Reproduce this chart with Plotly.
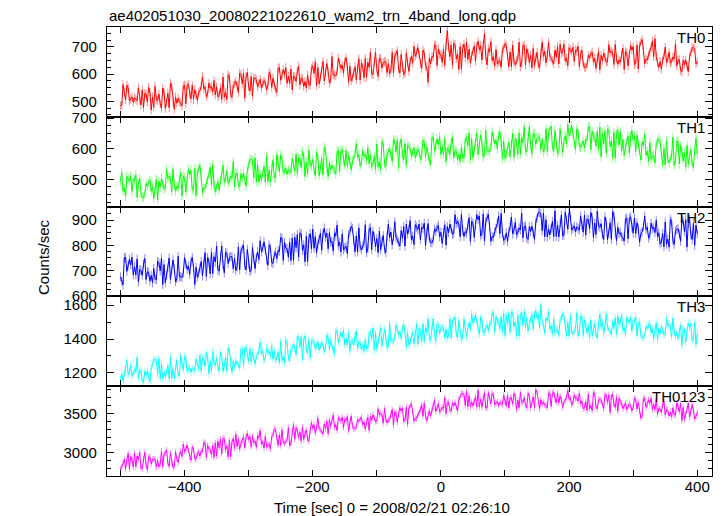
import plotly.graph_objects as go
from plotly.subplots import make_subplots

TITLE = "ae402051030_20080221022610_wam2_trn_4band_long.qdp"
X_TITLE = "Time [sec] 0 = 2008/02/21 02:26:10"
Y_TITLE = "Counts/sec"
PANEL_NAMES = ["TH0", "TH1", "TH2", "TH3", "TH0123"]

# time bins (sec, relative to 2008/02/21 02:26:10)
TIME = list(range(-500, 401, 2))

TH0 = [
    484, 485, 562, 535, 505, 559, 549, 502, 508, 516, 496, 513, 508, 502, 549,
    508, 486, 542, 477, 529, 527, 497, 551, 533, 468, 516, 478, 555, 507, 502,
    527, 491, 475, 549, 532, 474, 496, 530, 476, 567, 554, 496, 471, 516, 493,
    511, 498, 494, 483, 556, 559, 491, 557, 563, 528, 509, 559, 507, 543, 524,
    504, 533, 539, 555, 590, 545, 553, 517, 526, 567, 548, 554, 535, 576, 523,
    553, 516, 522, 550, 507, 589, 515, 532, 506, 598, 590, 526, 515, 560, 564,
    574, 556, 532, 604, 599, 564, 603, 513, 591, 606, 554, 538, 591, 519, 585,
    586, 579, 553, 564, 581, 548, 567, 576, 568, 543, 557, 606, 598, 551, 585,
    559, 544, 533, 622, 623, 577, 596, 617, 598, 624, 566, 592, 566, 618, 542,
    592, 590, 573, 611, 629, 560, 586, 583, 554, 573, 549, 596, 561, 559, 620,
    630, 603, 645, 558, 624, 564, 589, 613, 646, 575, 606, 639, 610, 567, 578,
    664, 596, 597, 593, 608, 659, 639, 621, 632, 604, 646, 660, 627, 571, 628,
    575, 587, 604, 627, 579, 622, 656, 578, 640, 626, 587, 658, 588, 643, 625,
    680, 601, 597, 646, 680, 619, 591, 658, 656, 622, 643, 645, 645, 605, 639,
    602, 614, 679, 604, 666, 674, 686, 619, 604, 672, 624, 598, 604, 678, 641,
    610, 647, 665, 640, 702, 665, 677, 698, 670, 638, 621, 688, 678, 630, 627,
    570, 660, 638, 665, 662, 707, 706, 632, 692, 673, 671, 643, 692, 632, 706,
    760, 698, 664, 707, 633, 712, 709, 655, 673, 617, 701, 618, 695, 710, 660,
    717, 654, 692, 640, 668, 682, 704, 648, 702, 721, 690, 704, 652, 706, 748,
    665, 634, 693, 682, 719, 650, 663, 630, 690, 637, 645, 650, 625, 688, 696,
    712, 705, 666, 628, 681, 627, 707, 644, 635, 649, 657, 717, 626, 640, 704,
    706, 633, 693, 676, 642, 670, 623, 694, 632, 661, 680, 634, 623, 677, 717,
    665, 683, 641, 668, 717, 664, 658, 649, 637, 688, 663, 701, 637, 709, 676,
    681, 710, 648, 659, 631, 697, 689, 680, 699, 647, 688, 683, 702, 628, 671,
    687, 636, 625, 624, 634, 669, 661, 673, 681, 644, 658, 621, 658, 683, 616,
    669, 649, 677, 661, 643, 646, 708, 678, 685, 677, 635, 709, 656, 636, 652,
    644, 671, 695, 617, 683, 677, 630, 672, 705, 688, 701, 635, 642, 707, 619,
    704, 717, 727, 687, 639, 654, 652, 670, 681, 698, 722, 664, 730, 665, 641,
    625, 646, 618, 650, 665, 699, 643, 655, 681, 640, 646, 663, 656, 711, 630,
    651, 653, 613, 608, 651, 635, 652, 629, 609, 665, 677, 697, 697, 693, 637,
    645,
]

TH1 = [
    494, 523, 461, 472, 444, 510, 502, 493, 512, 460, 501, 496, 515, 441, 484,
    504, 453, 442, 441, 451, 486, 478, 490, 498, 461, 475, 438, 475, 500, 433,
    494, 474, 502, 486, 468, 471, 533, 503, 510, 502, 460, 534, 481, 461, 477,
    472, 499, 523, 445, 511, 505, 458, 500, 533, 516, 529, 463, 470, 535, 447,
    522, 535, 545, 505, 457, 472, 470, 488, 499, 516, 540, 482, 548, 483, 459,
    472, 493, 465, 497, 512, 546, 490, 502, 528, 487, 493, 510, 503, 558, 477,
    519, 521, 481, 476, 519, 503, 520, 497, 477, 533, 545, 565, 565, 561, 505,
    570, 492, 548, 491, 517, 498, 519, 542, 491, 577, 493, 530, 491, 538, 564,
    504, 505, 582, 555, 525, 579, 569, 522, 528, 536, 516, 533, 528, 522, 569,
    549, 527, 583, 518, 570, 568, 538, 592, 574, 509, 557, 519, 596, 548, 543,
    565, 529, 513, 587, 570, 512, 534, 568, 514, 605, 592, 534, 509, 554, 531,
    546, 533, 529, 518, 591, 594, 526, 592, 598, 563, 544, 594, 542, 578, 559,
    531, 560, 566, 582, 617, 572, 580, 544, 553, 594, 575, 581, 562, 603, 550,
    579, 542, 548, 576, 533, 615, 541, 558, 532, 624, 616, 552, 541, 586, 590,
    600, 582, 558, 630, 625, 590, 629, 539, 617, 632, 580, 564, 617, 545, 611,
    608, 601, 575, 586, 603, 570, 589, 598, 590, 565, 579, 628, 620, 573, 607,
    574, 559, 548, 637, 638, 592, 611, 632, 613, 639, 581, 607, 581, 633, 557,
    601, 599, 582, 620, 638, 569, 595, 592, 563, 582, 558, 605, 570, 568, 629,
    636, 609, 651, 564, 630, 570, 595, 619, 652, 581, 612, 645, 616, 573, 584,
    660, 592, 593, 589, 604, 655, 635, 617, 628, 600, 642, 656, 623, 567, 624,
    569, 581, 598, 621, 573, 616, 650, 572, 634, 620, 581, 652, 582, 637, 619,
    672, 593, 589, 638, 672, 611, 583, 650, 648, 614, 635, 637, 637, 597, 631,
    589, 601, 666, 591, 653, 661, 673, 606, 591, 659, 611, 585, 591, 665, 628,
    587, 624, 642, 617, 679, 642, 654, 675, 647, 615, 598, 665, 655, 607, 604,
    615, 625, 603, 630, 627, 672, 671, 597, 657, 638, 636, 608, 657, 597, 671,
    573, 650, 616, 659, 585, 664, 661, 607, 625, 569, 653, 570, 647, 662, 612,
    655, 592, 630, 578, 606, 620, 642, 586, 640, 659, 628, 642, 590, 644, 612,
    594, 563, 622, 611, 648, 579, 592, 559, 619, 566, 574, 579, 554, 617, 625,
    632, 625, 586, 548, 601, 547, 627, 564, 555, 569, 577, 637, 546, 560, 624,
    623, 550, 610, 593, 559, 587, 540, 611, 549, 578, 597, 551, 540, 594, 634,
    583,
]

TH2 = [
    675, 657, 644, 751, 752, 697, 719, 745, 722, 753, 683, 715, 683, 746, 655,
    704, 701, 681, 726, 748, 665, 696, 693, 658, 681, 652, 708, 666, 664, 737,
    731, 699, 749, 645, 724, 652, 682, 711, 750, 665, 702, 742, 707, 655, 669,
    757, 675, 676, 672, 690, 751, 727, 705, 718, 685, 735, 752, 712, 645, 714,
    674, 688, 709, 736, 679, 730, 771, 677, 752, 735, 688, 773, 689, 755, 734,
    797, 703, 698, 757, 797, 724, 691, 771, 769, 728, 753, 755, 755, 707, 748,
    700, 715, 793, 703, 777, 787, 801, 721, 703, 784, 727, 696, 703, 792, 747,
    708, 752, 774, 744, 818, 774, 788, 814, 780, 742, 721, 802, 790, 732, 728,
    762, 774, 747, 780, 776, 830, 829, 740, 812, 789, 787, 753, 812, 740, 829,
    740, 832, 791, 843, 754, 849, 845, 780, 802, 735, 836, 736, 828, 846, 786,
    864, 788, 834, 771, 805, 822, 848, 781, 846, 868, 831, 848, 786, 850, 812,
    815, 778, 849, 836, 880, 797, 813, 773, 845, 782, 791, 797, 767, 843, 852,
    875, 866, 819, 774, 837, 773, 869, 793, 782, 799, 809, 881, 771, 788, 865,
    870, 783, 855, 834, 794, 827, 771, 856, 782, 816, 839, 784, 771, 836, 884,
    831, 852, 802, 834, 893, 830, 822, 812, 797, 858, 828, 874, 797, 884, 844,
    863, 898, 823, 836, 803, 882, 872, 862, 884, 822, 871, 865, 888, 799, 851,
    886, 825, 812, 810, 822, 864, 855, 869, 879, 834, 851, 807, 851, 881, 801,
    874, 850, 884, 865, 843, 847, 921, 885, 894, 884, 834, 922, 859, 835, 854,
    848, 880, 909, 816, 895, 888, 831, 882, 921, 901, 916, 837, 846, 924, 818,
    894, 910, 922, 874, 816, 834, 832, 854, 867, 887, 916, 846, 926, 848, 819,
    824, 849, 815, 854, 872, 912, 845, 860, 891, 842, 849, 869, 861, 927, 830,
    874, 877, 829, 823, 874, 855, 876, 848, 824, 891, 906, 930, 930, 925, 858,
    928, 834, 901, 833, 864, 841, 866, 894, 833, 936, 835, 880, 833, 889, 920,
    838, 840, 932, 900, 864, 928, 916, 860, 867, 877, 853, 873, 867, 860, 916,
    879, 852, 919, 841, 904, 901, 865, 930, 909, 831, 888, 843, 935, 877, 871,
    885, 842, 823, 912, 891, 822, 848, 889, 824, 933, 918, 848, 818, 872, 845,
    850, 835, 830, 817, 904, 908, 826, 906, 913, 871, 848, 908, 846, 889, 866,
    812, 847, 854, 874, 916, 862, 871, 828, 839, 888, 865, 872, 850, 899, 835,
    849, 805, 812, 846, 794, 892, 804, 824, 793, 903, 894, 817, 804, 858, 862,
    866, 845, 816, 902, 896, 854, 901, 793, 887, 905, 842, 823, 887, 800, 880,
    846,
]

TH3 = [
    1162, 1193, 1151, 1199, 1222, 1273, 1189, 1207, 1246, 1184, 1193, 1219, 1208, 1291, 1169,
    1210, 1213, 1153, 1146, 1210, 1186, 1212, 1177, 1147, 1231, 1249, 1279, 1279, 1273, 1189,
    1285, 1168, 1252, 1166, 1205, 1177, 1208, 1243, 1166, 1295, 1169, 1225, 1166, 1237, 1276,
    1186, 1187, 1303, 1262, 1217, 1298, 1283, 1213, 1222, 1234, 1204, 1229, 1222, 1213, 1283,
    1256, 1223, 1307, 1209, 1287, 1284, 1239, 1320, 1293, 1196, 1268, 1211, 1326, 1254, 1247,
    1288, 1234, 1210, 1321, 1296, 1209, 1242, 1293, 1212, 1348, 1329, 1242, 1204, 1272, 1237,
    1272, 1252, 1246, 1230, 1339, 1344, 1242, 1341, 1350, 1297, 1269, 1344, 1266, 1320, 1291,
    1253, 1297, 1306, 1330, 1382, 1315, 1327, 1273, 1286, 1348, 1319, 1328, 1300, 1361, 1282,
    1329, 1273, 1282, 1324, 1260, 1383, 1272, 1297, 1258, 1396, 1384, 1288, 1272, 1339, 1345,
    1371, 1344, 1308, 1416, 1408, 1356, 1414, 1279, 1396, 1419, 1341, 1317, 1396, 1288, 1387,
    1392, 1381, 1342, 1359, 1384, 1335, 1363, 1377, 1365, 1327, 1348, 1422, 1410, 1339, 1390,
    1353, 1331, 1314, 1448, 1449, 1380, 1409, 1440, 1412, 1451, 1364, 1403, 1364, 1442, 1328,
    1392, 1389, 1364, 1421, 1448, 1344, 1383, 1379, 1335, 1364, 1328, 1398, 1346, 1343, 1434,
    1443, 1402, 1465, 1335, 1434, 1344, 1381, 1417, 1467, 1360, 1407, 1456, 1413, 1348, 1365,
    1492, 1390, 1391, 1385, 1408, 1484, 1454, 1427, 1444, 1402, 1465, 1486, 1436, 1352, 1438,
    1365, 1383, 1409, 1443, 1371, 1436, 1487, 1370, 1463, 1442, 1383, 1490, 1385, 1467, 1440,
    1520, 1401, 1395, 1469, 1520, 1428, 1386, 1487, 1484, 1433, 1464, 1467, 1467, 1407, 1458,
    1404, 1422, 1520, 1407, 1500, 1512, 1530, 1430, 1407, 1509, 1437, 1398, 1407, 1518, 1463,
    1411, 1467, 1494, 1456, 1549, 1494, 1512, 1543, 1501, 1453, 1428, 1528, 1513, 1441, 1437,
    1468, 1483, 1450, 1491, 1486, 1554, 1552, 1441, 1531, 1503, 1500, 1458, 1531, 1441, 1552,
    1422, 1538, 1487, 1551, 1440, 1559, 1554, 1473, 1500, 1416, 1542, 1418, 1533, 1556, 1481,
    1563, 1469, 1526, 1448, 1490, 1511, 1544, 1460, 1541, 1569, 1523, 1544, 1466, 1603, 1499,
    1481, 1435, 1523, 1507, 1562, 1459, 1478, 1429, 1519, 1439, 1451, 1459, 1421, 1516, 1528,
    1546, 1535, 1477, 1420, 1499, 1418, 1538, 1444, 1430, 1451, 1463, 1553, 1417, 1438, 1534,
    1531, 1421, 1511, 1486, 1435, 1477, 1406, 1513, 1420, 1463, 1492, 1423, 1406, 1487, 1547,
    1470, 1497, 1434, 1474, 1548, 1468, 1459, 1446, 1428, 1504, 1467, 1524, 1428, 1536, 1486,
    1500, 1543, 1450, 1467, 1425, 1524, 1512, 1498, 1527, 1449, 1510, 1503, 1531, 1420, 1485,
    1501, 1424, 1408, 1406, 1421, 1474, 1462, 1480, 1492, 1436, 1457, 1402, 1457, 1495, 1394,
    1463, 1433, 1475, 1451, 1424, 1428, 1521, 1476, 1487, 1475, 1412, 1523, 1443, 1413, 1437,
    1403, 1444, 1480, 1363, 1462, 1453, 1382, 1445, 1495, 1469, 1489, 1390, 1400, 1498, 1366,
    1430,
]

TH0123 = [
    2787, 2817, 2860, 2917, 2797, 2905, 2990, 2795, 2950, 2915, 2817, 2995, 2820, 2957, 2912,
    3005, 2807, 2797, 2920, 3005, 2852, 2782, 2950, 2945, 2860, 2912, 2917, 2917, 2817, 2902,
    2822, 2852, 3015, 2827, 2982, 3002, 3032, 2865, 2827, 2997, 2877, 2812, 2827, 3012, 2920,
    2877, 2970, 3015, 2952, 3107, 3015, 3045, 3097, 3027, 2947, 2905, 3072, 3047, 2927, 2920,
    2987, 3012, 2957, 3025, 3017, 3130, 3127, 2942, 3092, 3045, 3040, 2970, 3092, 2942, 3127,
    2957, 3150, 3065, 3172, 2987, 3185, 3177, 3042, 3087, 2947, 3157, 2950, 3142, 3180, 3055,
    3237, 3080, 3175, 3045, 3115, 3150, 3205, 3065, 3200, 3247, 3170, 3205, 3075, 3210, 3130,
    3147, 3070, 3217, 3190, 3282, 3110, 3142, 3060, 3210, 3077, 3097, 3110, 3047, 3205, 3225,
    3305, 3287, 3190, 3095, 3227, 3092, 3292, 3135, 3112, 3147, 3167, 3317, 3090, 3125, 3285,
    3355, 3172, 3322, 3280, 3195, 3265, 3147, 3325, 3170, 3242, 3290, 3175, 3147, 3282, 3382,
    3310, 3355, 3250, 3317, 3440, 3307, 3292, 3270, 3240, 3367, 3305, 3400, 3240, 3420, 3337,
    3408, 3480, 3325, 3353, 3283, 3448, 3428, 3405, 3453, 3323, 3425, 3413, 3460, 3275, 3383,
    3465, 3337, 3310, 3307, 3332, 3420, 3400, 3430, 3450, 3357, 3392, 3300, 3392, 3455, 3287,
    3462, 3412, 3482, 3442, 3397, 3404, 3559, 3484, 3502, 3482, 3377, 3562, 3429, 3379, 3419,
    3422, 3490, 3550, 3355, 3520, 3505, 3387, 3492, 3575, 3532, 3565, 3400, 3417, 3580, 3360,
    3565, 3598, 3623, 3523, 3403, 3440, 3435, 3480, 3508, 3550, 3610, 3465, 3630, 3468, 3408,
    3485, 3537, 3467, 3547, 3585, 3670, 3530, 3560, 3625, 3522, 3537, 3580, 3562, 3700, 3497,
    3637, 3642, 3542, 3530, 3637, 3597, 3640, 3582, 3532, 3672, 3702, 3752, 3752, 3742, 3602,
    3780, 3585, 3725, 3582, 3647, 3600, 3652, 3710, 3582, 3797, 3587, 3680, 3582, 3700, 3765,
    3570, 3572, 3765, 3697, 3622, 3757, 3732, 3615, 3630, 3650, 3600, 3642, 3630, 3615, 3732,
    3650, 3595, 3735, 3572, 3702, 3697, 3622, 3757, 3712, 3550, 3670, 3575, 3767, 3647, 3635,
    3702, 3612, 3572, 3757, 3715, 3570, 3625, 3710, 3575, 3802, 3770, 3625, 3562, 3675, 3617,
    3642, 3609, 3599, 3572, 3754, 3762, 3592, 3757, 3772, 3684, 3637, 3762, 3632, 3722, 3674,
    3577, 3650, 3665, 3705, 3792, 3680, 3700, 3610, 3632, 3735, 3687, 3702, 3655, 3757, 3625,
    3655, 3562, 3577, 3647, 3540, 3745, 3560, 3602, 3537, 3767, 3747, 3587, 3560, 3672, 3682,
    3667, 3622, 3562, 3742, 3729, 3642, 3739, 3514, 3709, 3747, 3617, 3577, 3709, 3529, 3694,
    3645, 3627, 3562, 3590, 3632, 3550, 3597, 3620, 3600, 3537, 3572, 3695, 3675, 3557, 3642,
    3532, 3440, 3467, 3690, 3692, 3577, 3625, 3677, 3630, 3695, 3550, 3615, 3550, 3680, 3490,
    3562, 3557, 3515, 3610, 3655, 3482, 3547, 3540, 3467, 3515, 3455, 3572, 3485, 3480, 3632,
    3590, 3522, 3627, 3410, 3575, 3425, 3487, 3547, 3630, 3452, 3530, 3612, 3540, 3432, 3460,
    3515,
]

# error half-widths (counts/sec)
ERRORS = [16, 15, 18, 22, 40]

X_TICKS = [-500, -400, -300, -200, -100, 0, 100, 200, 300, 400]
X_TICK_LABELS = ["", "\u2212400", "", "\u2212200", "", "0", "", "200", "", "400"]

SERIES = [TH0, TH1, TH2, TH3, TH0123]
COLORS = ["#ff0000", "#00ff00", "#0000ff", "#00ffff", "#ff00ff"]
ERR_COLORS = ["rgba(255,0,0,0.45)", "rgba(0,255,0,0.45)", "rgba(0,0,255,0.45)",
              "rgba(0,255,255,0.45)", "rgba(255,0,255,0.45)"]
Y_RANGES = [[443, 773], [411, 704], [598, 953], [1122, 1651], [2704, 3847]]
Y_DTICK = [100, 100, 100, 200, 500]
Y_MINOR = [25, 25, 25, 100, 100]

FONT = "Liberation Sans, Arial, Helvetica, sans-serif"
W, H = 723, 516
L, R, T, B = 107, 11, 27, 40
PW, PH = W - L - R, H - T - B


def px(x):
    return (x - L) / PW


def py(y):
    return (H - B - y) / PH


fig = make_subplots(rows=5, cols=1, shared_xaxes=True, vertical_spacing=0)

for i, (vals, col, ecol, err) in enumerate(zip(SERIES, COLORS, ERR_COLORS, ERRORS)):
    fig.add_trace(go.Scatter(
        x=TIME[:len(vals)], y=vals, mode="lines",
        line=dict(color=col, width=1),
        error_y=dict(type="constant", value=err, color=ecol, thickness=1, width=0),
        showlegend=False, hoverinfo="skip",
    ), row=i + 1, col=1)

fig.update_xaxes(
    range=[-521, 423], tickmode="array", tickvals=X_TICKS, ticktext=X_TICK_LABELS,
    ticks="inside", ticklen=6, tickwidth=1, tickcolor="black",
    showline=True, linecolor="black", linewidth=1.3, mirror="ticks",
    showgrid=False, zeroline=False, showticklabels=False,
    tickfont=dict(family=FONT, size=15, color="black"),
)
fig.update_xaxes(showticklabels=True, ticklabelstandoff=-3, row=5, col=1)

for i in range(5):
    fig.update_yaxes(
        range=Y_RANGES[i], dtick=Y_DTICK[i], tick0=0,
        ticks="inside", ticklen=7, tickwidth=1, tickcolor="black",
        minor=dict(dtick=Y_MINOR[i], tick0=0, ticks="inside", ticklen=3.5,
                   tickwidth=1, tickcolor="black", showgrid=False),
        showline=True, linecolor="black", linewidth=1.3, mirror="ticks",
        showgrid=False, zeroline=False, ticklabelstandoff=6,
        tickfont=dict(family=FONT, size=15, color="black"),
        row=i + 1, col=1,
    )

annotations = []
panel_top = [T + k * PH / 5 for k in range(5)]
for k, name in enumerate(PANEL_NAMES):
    annotations.append(dict(
        text=name, xref="paper", yref="paper", x=px(707), y=py(panel_top[k] + 10.5),
        xanchor="right", yanchor="middle", showarrow=False,
        font=dict(family=FONT, size=15, color="black"),
    ))
annotations.append(dict(
    text=TITLE, xref="paper", yref="paper", x=px(107), y=py(15),
    xanchor="left", yanchor="middle", showarrow=False,
    font=dict(family=FONT, size=15, color="black"),
))
annotations.append(dict(
    text=X_TITLE, xref="paper", yref="paper", x=px(392), y=py(507),
    xanchor="center", yanchor="middle", showarrow=False,
    font=dict(family=FONT, size=15, color="black"),
))
annotations.append(dict(
    text=Y_TITLE, xref="paper", yref="paper", x=px(43), y=py(257), textangle=-90,
    xanchor="center", yanchor="middle", showarrow=False,
    font=dict(family=FONT, size=15, color="black"),
))

fig.update_layout(
    width=W, height=H, margin=dict(l=L, r=R, t=T, b=B),
    paper_bgcolor="white", plot_bgcolor="white",
    showlegend=False, hovermode=False,
    annotations=annotations,
    font=dict(family=FONT, size=15, color="black"),
)

fig.write_html("out.html", config={"displayModeBar": False},
               post_script="document.body.style.margin='0';")
